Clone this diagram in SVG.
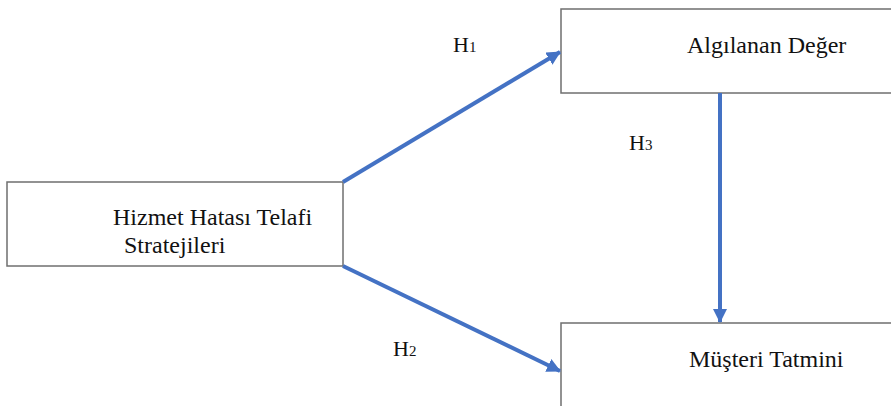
<svg xmlns="http://www.w3.org/2000/svg" width="891" height="406" viewBox="0 0 891 406">
<style>
.box{fill:#fff;stroke:#6f6f6f;stroke-width:1.5}
.t{font-family:"Liberation Serif","Times New Roman",serif;font-size:24px;fill:#111}
.h{font-family:"Liberation Serif","Times New Roman",serif;font-size:22px;fill:#111}
.sub{font-size:15px}
.conn{stroke:#4472C4;stroke-width:4;fill:none;marker-end:url(#ah)}
</style>
<defs>
<marker id="ah" markerUnits="userSpaceOnUse" markerWidth="14" markerHeight="14" viewBox="0 0 14 14" refX="13" refY="7" orient="auto">
<path d="M0,0 L14,7 L0,14 Z" fill="#4472C4"/>
</marker>
</defs>
<rect width="891" height="406" fill="#fff"/>
<g id="node-hizmet">
<rect class="box" x="7" y="182" width="336" height="84"/>
<text class="t" x="113" y="225">Hizmet Hatası Telafi</text>
<text class="t" x="124" y="253">Stratejileri</text>
</g>
<g id="node-algilanan">
<rect class="box" x="561" y="9" width="340" height="84"/>
<text class="t" x="687" y="53">Algılanan Değer</text>
</g>
<g id="node-musteri">
<rect class="box" x="561" y="323" width="340" height="100"/>
<text class="t" x="689" y="367">Müşteri Tatmini</text>
</g>
<g id="connectors">
<line class="conn" x1="343" y1="182" x2="560" y2="52"/>
<line class="conn" x1="343" y1="266" x2="560" y2="371"/>
<line class="conn" x1="720" y1="93" x2="720" y2="322"/>
<text class="h" x="453" y="52">H<tspan class="sub">1</tspan></text>
<text class="h" x="393" y="356">H<tspan class="sub">2</tspan></text>
<text class="h" x="629" y="150">H<tspan class="sub">3</tspan></text>
</g>
</svg>
